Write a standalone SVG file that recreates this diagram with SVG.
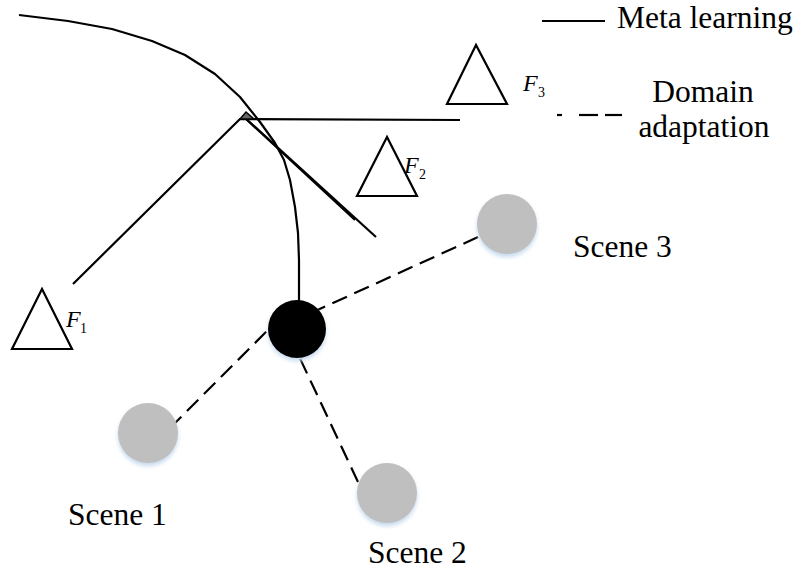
<svg xmlns="http://www.w3.org/2000/svg" width="799" height="574" viewBox="0 0 799 574">
<defs>
<filter id="soft" x="-30%" y="-30%" width="160%" height="160%"><feGaussianBlur stdDeviation="2"/></filter>
</defs>
<style>
.ln{fill:none;stroke:#000;stroke-width:2.2;stroke-linecap:butt;stroke-linejoin:round}
.dash{fill:none;stroke:#000;stroke-width:2.2;stroke-dasharray:16 8}
.tri{fill:#fff;stroke:#000;stroke-width:2.2}
.lbl{font-family:"Liberation Serif","Times New Roman",serif;font-size:31.5px;fill:#000}
.f{font-family:"Liberation Serif","Times New Roman",serif;font-size:24px;font-style:italic;fill:#000}
.sub{font-family:"Liberation Serif","Times New Roman",serif;font-size:14px;fill:#000}
.scene{fill:#bfbfbf}
.glow{fill:#c6d9ee;filter:url(#soft)}
</style>
<rect width="799" height="574" fill="#fff"/>
<g id="connectors">
<path class="ln" d="M19,15 L68,21 L112,29 L152,41 L185,55 L215,74 L240,97 L260,122 L275,143 L284,160 L290,180 L295,207 L298,233 L299,260 L299,302"/>
<path class="ln" d="M73,284 L240,119 L460,120"/>
<path class="ln" d="M244,117 L355,220"/>
<path class="ln" d="M244,117 L376,237"/>
<polygon points="240,119 246,112 254,119" fill="#666" stroke="#000" stroke-width="1.5"/>
<line class="dash" x1="170" y1="428" x2="290" y2="308"/>
<line class="dash" x1="358" y1="482" x2="297" y2="352"/>
<line class="dash" x1="478" y1="237" x2="300" y2="318"/>
</g>
<g id="F1">
<polygon class="tri" points="42,289 12,349 72,349"/>
<text class="f" x="66" y="327">F</text><text class="sub" x="80" y="333">1</text>
</g>
<g id="F2">
<polygon class="tri" points="387,137 357,196 417,196"/>
<text class="f" x="404" y="173">F</text><text class="sub" x="419" y="179">2</text>
</g>
<g id="F3">
<polygon class="tri" points="476,45 447,104 507,104"/>
<text class="f" x="523" y="91">F</text><text class="sub" x="538" y="97">3</text>
</g>
<g id="center">
<circle class="glow" cx="297" cy="332" r="29"/>
<circle cx="297" cy="329" r="29" fill="#000"/>
</g>
<g id="scene1">
<circle class="glow" cx="148" cy="436" r="30"/>
<circle class="scene" cx="148" cy="433" r="30"/>
<text class="lbl" x="68" y="525">Scene 1</text>
</g>
<g id="scene2">
<circle class="glow" cx="387" cy="496" r="30"/>
<circle class="scene" cx="387" cy="493" r="30"/>
<text class="lbl" x="368" y="563">Scene 2</text>
</g>
<g id="scene3">
<circle class="glow" cx="507" cy="227" r="30"/>
<circle class="scene" cx="507" cy="224" r="30"/>
<text class="lbl" x="573" y="257">Scene 3</text>
</g>
<g id="legend">
<line class="ln" x1="542" y1="21" x2="605" y2="21"/>
<text class="lbl" x="617" y="28">Meta learning</text>
<line x1="557" y1="115" x2="562" y2="115" stroke="#000" stroke-width="2.2"/>
<line x1="579" y1="115" x2="598" y2="115" stroke="#000" stroke-width="2.2"/>
<line x1="605" y1="115" x2="622" y2="115" stroke="#000" stroke-width="2.2"/>
<text class="lbl" x="703" y="102" text-anchor="middle">Domain</text>
<text class="lbl" x="704" y="137" text-anchor="middle">adaptation</text>
</g>
</svg>
